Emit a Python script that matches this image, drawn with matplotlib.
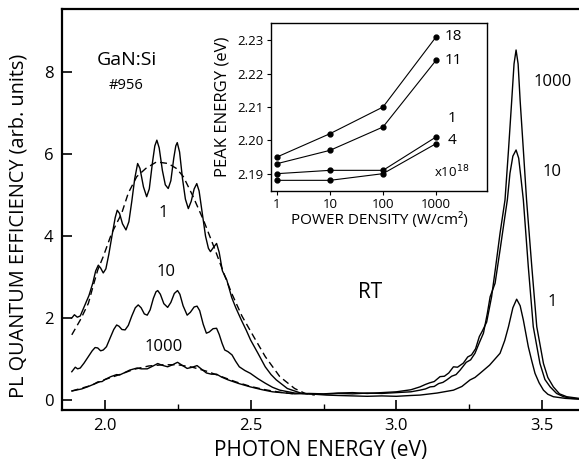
import numpy as np
import matplotlib
matplotlib.use("Agg")
import matplotlib.pyplot as plt
from matplotlib.ticker import FixedLocator, NullFormatter, NullLocator

plt.rcParams['font.family'] = ['Open Sans', 'DejaVu Sans']

# main spectra: photon energy (eV), PL quantum efficiency (arb. units)
e_1 = [1.886, 1.895, 1.905, 1.915, 1.930, 1.945, 1.958, 1.968, 1.977, 1.985,
       1.994, 2.003, 2.013, 2.025, 2.035, 2.042, 2.050, 2.060, 2.072, 2.082,
       2.092, 2.102, 2.112, 2.120, 2.132, 2.143, 2.152, 2.163, 2.171, 2.178,
       2.186, 2.197, 2.207, 2.217, 2.226, 2.236, 2.243, 2.248, 2.256, 2.266,
       2.276, 2.286, 2.296, 2.306, 2.315, 2.323, 2.333, 2.345, 2.355, 2.362,
       2.372, 2.383, 2.392, 2.403, 2.418, 2.435, 2.449, 2.468, 2.485, 2.500,
       2.525, 2.550, 2.570, 2.588, 2.626, 2.676, 2.720, 2.760, 2.800, 2.850,
       2.900, 2.950, 3.000, 3.050, 3.081, 3.140, 3.196, 3.225, 3.253, 3.270,
       3.287, 3.320, 3.356, 3.372, 3.385, 3.400, 3.413, 3.425, 3.436, 3.453,
       3.465, 3.476, 3.490, 3.505, 3.520, 3.539, 3.580, 3.627]
pl_1 = [2.00, 2.08, 2.02, 2.05, 2.30, 2.55, 2.85, 3.15, 3.29, 3.22,
        3.10, 3.20, 3.55, 4.05, 4.45, 4.63, 4.55, 4.30, 4.15, 4.35,
        4.85, 5.40, 5.77, 5.65, 5.20, 4.96, 5.15, 5.80, 6.20, 6.34,
        6.15, 5.60, 5.25, 5.16, 5.35, 5.90, 6.20, 6.28, 6.05, 5.40,
        4.90, 4.67, 4.85, 5.15, 5.28, 5.10, 4.60, 4.00, 3.70, 3.62,
        3.72, 3.82, 3.60, 3.15, 2.93, 2.50, 2.25, 1.95, 1.70, 1.46,
        1.14, 0.81, 0.62, 0.49, 0.28, 0.16, 0.14, 0.12, 0.11, 0.10,
        0.09, 0.10, 0.09, 0.11, 0.12, 0.17, 0.24, 0.33, 0.49, 0.55,
        0.65, 0.85, 1.14, 1.45, 1.79, 2.25, 2.46, 2.30, 1.95, 1.30,
        0.95, 0.65, 0.42, 0.24, 0.14, 0.08, 0.04, 0.02]

e_10 = [1.886, 1.898, 1.906, 1.915, 1.928, 1.942, 1.956, 1.966, 1.975, 1.985,
        1.994, 2.005, 2.018, 2.030, 2.040, 2.048, 2.058, 2.069, 2.080, 2.092,
        2.104, 2.114, 2.124, 2.135, 2.145, 2.155, 2.166, 2.175, 2.181, 2.190,
        2.202, 2.215, 2.226, 2.238, 2.249, 2.257, 2.268, 2.282, 2.293, 2.306,
        2.316, 2.325, 2.337, 2.348, 2.358, 2.371, 2.383, 2.392, 2.402, 2.411,
        2.422, 2.436, 2.448, 2.461, 2.480, 2.499, 2.525, 2.550, 2.575, 2.600,
        2.651, 2.700, 2.750, 2.800, 2.850, 2.900, 2.950, 3.000, 3.050, 3.081,
        3.100, 3.116, 3.130, 3.145, 3.160, 3.173, 3.190, 3.205, 3.219, 3.240,
        3.255, 3.270, 3.285, 3.299, 3.312, 3.322, 3.339, 3.356, 3.370, 3.381,
        3.390, 3.400, 3.411, 3.420, 3.428, 3.436, 3.453, 3.470, 3.493, 3.510,
        3.528, 3.550, 3.574, 3.600, 3.627]
pl_10 = [0.69, 0.80, 0.76, 0.78, 0.90, 1.05, 1.20, 1.28, 1.27, 1.20,
         1.22, 1.30, 1.52, 1.72, 1.83, 1.80, 1.72, 1.71, 1.82, 2.05,
         2.25, 2.32, 2.25, 2.10, 2.07, 2.20, 2.48, 2.64, 2.67, 2.58,
         2.35, 2.26, 2.38, 2.60, 2.67, 2.58, 2.30, 2.07, 2.14, 2.27,
         2.29, 2.18, 1.85, 1.63, 1.66, 1.74, 1.75, 1.60, 1.38, 1.22,
         1.18, 1.10, 0.95, 0.81, 0.72, 0.65, 0.52, 0.41, 0.31, 0.24,
         0.17, 0.15, 0.14, 0.16, 0.15, 0.17, 0.16, 0.18, 0.20, 0.24,
         0.27, 0.32, 0.33, 0.40, 0.43, 0.49, 0.58, 0.62, 0.73, 0.92,
         0.98, 1.14, 1.40, 1.63, 2.10, 2.52, 2.85, 3.66, 4.35, 4.88,
         5.53, 5.95, 6.10, 5.90, 5.40, 4.88, 3.25, 1.79, 0.89, 0.50,
         0.32, 0.16, 0.08, 0.04, 0.03]

e_1000 = [1.886, 1.900, 1.920, 1.943, 1.960, 1.975, 1.990, 2.000, 2.020, 2.040,
          2.050, 2.065, 2.085, 2.110, 2.125, 2.145, 2.165, 2.181, 2.195, 2.215,
          2.232, 2.249, 2.262, 2.282, 2.300, 2.316, 2.330, 2.348, 2.365, 2.383,
          2.400, 2.423, 2.460, 2.499, 2.540, 2.575, 2.620, 2.651, 2.700, 2.750,
          2.800, 2.850, 2.900, 2.950, 3.000, 3.050, 3.081, 3.100, 3.115, 3.130,
          3.150, 3.165, 3.180, 3.196, 3.210, 3.230, 3.245, 3.258, 3.272, 3.285,
          3.295, 3.310, 3.327, 3.340, 3.356, 3.373, 3.385, 3.396, 3.404, 3.411,
          3.418, 3.425, 3.436, 3.447, 3.465, 3.482, 3.505, 3.520, 3.539, 3.560,
          3.585, 3.627]
pl_1000 = [0.22, 0.24, 0.27, 0.33, 0.38, 0.44, 0.45, 0.50, 0.57, 0.62,
           0.61, 0.66, 0.73, 0.78, 0.76, 0.76, 0.83, 0.89, 0.85, 0.81,
           0.86, 0.92, 0.86, 0.77, 0.80, 0.84, 0.76, 0.66, 0.63, 0.63,
           0.56, 0.49, 0.40, 0.32, 0.25, 0.20, 0.17, 0.15, 0.16, 0.15,
           0.17, 0.18, 0.16, 0.18, 0.20, 0.25, 0.32, 0.38, 0.42, 0.45,
           0.57, 0.58, 0.66, 0.81, 0.80, 0.90, 1.05, 1.10, 1.25, 1.55,
           1.68, 1.90, 2.52, 3.20, 4.07, 4.88, 6.10, 7.30, 8.20, 8.54,
           8.20, 7.30, 6.10, 4.88, 3.25, 1.79, 0.89, 0.55, 0.32, 0.15,
           0.08, 0.04]

# dashed smooth curves (yellow band)
e_fit1 = [1.886, 1.915, 1.943, 1.960, 1.975, 1.994, 2.023, 2.057, 2.080, 2.109,
          2.140, 2.177, 2.217, 2.245, 2.269, 2.300, 2.338, 2.378, 2.410, 2.435,
          2.470, 2.510, 2.550, 2.600, 2.651, 2.687, 2.720]
pl_fit1 = [1.59, 1.95, 2.36, 2.80, 3.17, 3.50, 4.07, 4.55, 5.05, 5.45,
           5.65, 5.81, 5.77, 5.65, 5.45, 5.00, 4.39, 3.66, 3.05, 2.60,
           2.05, 1.55, 1.06, 0.57, 0.28, 0.16, 0.12]
e_fit1000 = [1.886, 1.950, 2.000, 2.050, 2.100, 2.150, 2.200, 2.250, 2.300, 2.350,
             2.400, 2.450, 2.500, 2.550, 2.600, 2.650]
pl_fit1000 = [0.22, 0.35, 0.50, 0.62, 0.75, 0.83, 0.86, 0.86, 0.80, 0.70,
              0.57, 0.44, 0.33, 0.25, 0.19, 0.15]

# inset: peak energy vs power density
power = [1, 10, 100, 1000]
peak_18 = [2.195, 2.202, 2.210, 2.231]
peak_11 = [2.193, 2.197, 2.204, 2.224]
peak_1 = [2.190, 2.191, 2.191, 2.201]
peak_4 = [2.188, 2.188, 2.190, 2.199]

W, H = 579, 463
fig = plt.figure(figsize=(W / 100, H / 100), dpi=100)

ax = fig.add_axes([62 / W, 1 - 410 / H, 1 - 62 / W, (410 - 9) / H])
for e, pl in [(e_1, pl_1), (e_10, pl_10), (e_1000, pl_1000)]:
    ax.plot(e, pl, color='black', lw=1.0)
ax.plot(e_fit1, pl_fit1, color='black', lw=1.0, ls=(0, (5, 3)))
ax.plot(e_fit1000, pl_fit1000, color='black', lw=1.0, ls=(0, (5, 3)))

ax.set_xlim(1.8524, 3.627)
ax.set_ylim(-0.244, 9.54)
ax.set_xticks([2.0, 2.5, 3.0, 3.5])
ax.set_xticklabels(['2.0', '2.5', '3.0', '3.5'])
ax.xaxis.set_minor_locator(FixedLocator([2.25, 2.75, 3.25]))
ax.set_yticks([0, 2, 4, 6, 8])
ax.tick_params(axis='both', which='major', direction='in', length=7, width=1.2,
               labelsize=12, pad=6)
ax.tick_params(axis='x', which='minor', direction='in', length=4, width=1.0)
ax.spines['right'].set_visible(False)
for s in ['left', 'bottom', 'top']:
    ax.spines[s].set_linewidth(1.6)
ax.set_xlabel('PHOTON ENERGY (eV)', fontsize=15, labelpad=4)
ax.set_ylabel('PL QUANTUM EFFICIENCY (arb. units)', fontsize=14.3)
ax.yaxis.set_label_coords(-(62 - 29) / (W - 62), 0.46)

ax.text(2.076, 8.29, 'GaN:Si', fontsize=14, ha='center', va='center')
ax.text(2.072, 7.68, '#956', fontsize=10.5, ha='center', va='center')
ax.text(2.199, 4.56, '1', fontsize=12, ha='center', va='center')
ax.text(2.209, 3.12, '10', fontsize=12, ha='center', va='center')
ax.text(2.203, 1.29, '1000', fontsize=12, ha='center', va='center')
ax.text(2.91, 2.63, 'RT', fontsize=15, ha='center', va='center')
ax.text(3.535, 7.76, '1000', fontsize=12, ha='center', va='center')
ax.text(3.535, 5.56, '10', fontsize=12, ha='center', va='center')
ax.text(3.535, 2.39, '1', fontsize=12, ha='center', va='center')

# inset
ins = fig.add_axes([271 / W, 1 - 191 / H, (487 - 271) / W, (191 - 23) / H])
for vals in [peak_18, peak_11, peak_1, peak_4]:
    ins.plot(power, vals, color='black', lw=0.8, marker='o', ms=3.5)
ins.set_xscale('log')
ins.set_xlim(0.77, 9170)
ins.set_ylim(2.1848, 2.2352)
ins.xaxis.set_major_locator(FixedLocator(power))
ins.set_xticklabels(['1', '10', '100', '1000'])
ins.xaxis.set_minor_locator(NullLocator())
ins.xaxis.set_minor_formatter(NullFormatter())
ins.set_yticks([2.19, 2.20, 2.21, 2.22, 2.23])
ins.set_yticklabels(['2.19', '2.20', '2.21', '2.22', '2.23'])
ins.tick_params(axis='both', which='major', direction='out', length=3, width=0.8,
                labelsize=9.5, pad=2)
for s in ins.spines.values():
    s.set_linewidth(1.0)
ins.set_xlabel('POWER DENSITY (W/cm²)', fontsize=11, labelpad=1)
ins.set_ylabel('PEAK ENERGY (eV)', fontsize=12, labelpad=5)

for label, px, py in [('18', 453, 37), ('11', 453, 60), ('1', 452, 118), ('4', 452, 141)]:
    fig.text(px / W, 1 - py / H, label, fontsize=11, ha='center', va='center')
fig.text(452 / W, 1 - 172 / H, 'x10$^{18}$', fontsize=9.5, ha='center', va='center')

fig.savefig('out.png', dpi=100)
